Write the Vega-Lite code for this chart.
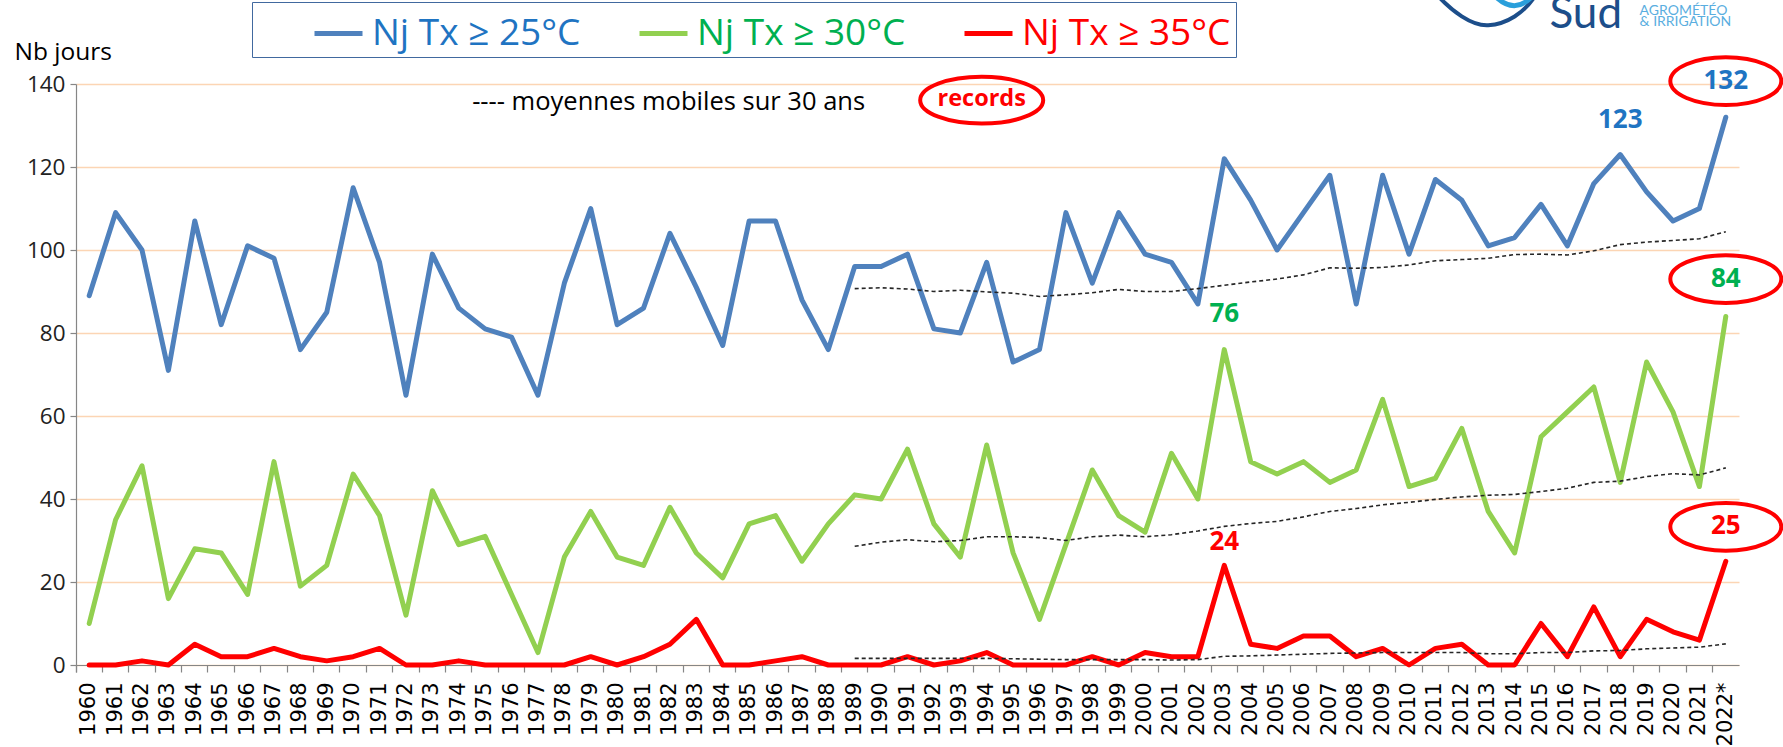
{
  "$schema": "https://vega.github.io/schema/vega-lite/v6.json",
  "width": 1663,
  "height": 581,
  "autosize": {"type": "none"},
  "padding": {"left": 76, "top": 84, "right": 44, "bottom": 82},
  "background": "#FFFFFF",
  "config": {"view": {"stroke": null}, "font": "Open Sans"},
  "datasets": {
    "obs": [
      {"year":"1960","t25":89,"t30":10,"t35":0},{"year":"1961","t25":109,"t30":35,"t35":0},{"year":"1962","t25":100,"t30":48,"t35":1},
      {"year":"1963","t25":71,"t30":16,"t35":0},{"year":"1964","t25":107,"t30":28,"t35":5},{"year":"1965","t25":82,"t30":27,"t35":2},
      {"year":"1966","t25":101,"t30":17,"t35":2},{"year":"1967","t25":98,"t30":49,"t35":4},{"year":"1968","t25":76,"t30":19,"t35":2},
      {"year":"1969","t25":85,"t30":24,"t35":1},{"year":"1970","t25":115,"t30":46,"t35":2},{"year":"1971","t25":97,"t30":36,"t35":4},
      {"year":"1972","t25":65,"t30":12,"t35":0},{"year":"1973","t25":99,"t30":42,"t35":0},{"year":"1974","t25":86,"t30":29,"t35":1},
      {"year":"1975","t25":81,"t30":31,"t35":0},{"year":"1976","t25":79,"t30":17,"t35":0},{"year":"1977","t25":65,"t30":3,"t35":0},
      {"year":"1978","t25":92,"t30":26,"t35":0},{"year":"1979","t25":110,"t30":37,"t35":2},{"year":"1980","t25":82,"t30":26,"t35":0},
      {"year":"1981","t25":86,"t30":24,"t35":2},{"year":"1982","t25":104,"t30":38,"t35":5},{"year":"1983","t25":91,"t30":27,"t35":11},
      {"year":"1984","t25":77,"t30":21,"t35":0},{"year":"1985","t25":107,"t30":34,"t35":0},{"year":"1986","t25":107,"t30":36,"t35":1},
      {"year":"1987","t25":88,"t30":25,"t35":2},{"year":"1988","t25":76,"t30":34,"t35":0},{"year":"1989","t25":96,"t30":41,"t35":0},
      {"year":"1990","t25":96,"t30":40,"t35":0},{"year":"1991","t25":99,"t30":52,"t35":2},{"year":"1992","t25":81,"t30":34,"t35":0},
      {"year":"1993","t25":80,"t30":26,"t35":1},{"year":"1994","t25":97,"t30":53,"t35":3},{"year":"1995","t25":73,"t30":27,"t35":0},
      {"year":"1996","t25":76,"t30":11,"t35":0},{"year":"1997","t25":109,"t30":29,"t35":0},{"year":"1998","t25":92,"t30":47,"t35":2},
      {"year":"1999","t25":109,"t30":36,"t35":0},{"year":"2000","t25":99,"t30":32,"t35":3},{"year":"2001","t25":97,"t30":51,"t35":2},
      {"year":"2002","t25":87,"t30":40,"t35":2},{"year":"2003","t25":122,"t30":76,"t35":24},{"year":"2004","t25":112,"t30":49,"t35":5},
      {"year":"2005","t25":100,"t30":46,"t35":4},{"year":"2006","t25":109,"t30":49,"t35":7},{"year":"2007","t25":118,"t30":44,"t35":7},
      {"year":"2008","t25":87,"t30":47,"t35":2},{"year":"2009","t25":118,"t30":64,"t35":4},{"year":"2010","t25":99,"t30":43,"t35":0},
      {"year":"2011","t25":117,"t30":45,"t35":4},{"year":"2012","t25":112,"t30":57,"t35":5},{"year":"2013","t25":101,"t30":37,"t35":0},
      {"year":"2014","t25":103,"t30":27,"t35":0},{"year":"2015","t25":111,"t30":55,"t35":10},{"year":"2016","t25":101,"t30":61,"t35":2},
      {"year":"2017","t25":116,"t30":67,"t35":14},{"year":"2018","t25":123,"t30":44,"t35":2},{"year":"2019","t25":114,"t30":73,"t35":11},
      {"year":"2020","t25":107,"t30":61,"t35":8},{"year":"2021","t25":110,"t30":43,"t35":6},{"year":"2022","t25":132,"t30":84,"t35":25}
    ],
    "mm": [
      {"year":"1989","m25":90.7,"m30":28.6,"m35":1.6},{"year":"1990","m25":90.9,"m30":29.6,"m35":1.6},{"year":"1991","m25":90.6,"m30":30.2,"m35":1.6},
      {"year":"1992","m25":90.0,"m30":29.7,"m35":1.6},{"year":"1993","m25":90.3,"m30":30.0,"m35":1.6},{"year":"1994","m25":89.9,"m30":30.9,"m35":1.6},
      {"year":"1995","m25":89.6,"m30":30.9,"m35":1.5},{"year":"1996","m25":88.8,"m30":30.7,"m35":1.4},{"year":"1997","m25":89.2,"m30":30.0,"m35":1.3},
      {"year":"1998","m25":89.7,"m30":30.9,"m35":1.3},{"year":"1999","m25":90.5,"m30":31.3,"m35":1.3},{"year":"2000","m25":90.0,"m30":30.9,"m35":1.3},
      {"year":"2001","m25":90.0,"m30":31.4,"m35":1.2},{"year":"2002","m25":90.7,"m30":32.3,"m35":1.3},{"year":"2003","m25":91.5,"m30":33.4,"m35":2.1},
      {"year":"2004","m25":92.3,"m30":34.1,"m35":2.2},{"year":"2005","m25":93.0,"m30":34.6,"m35":2.4},{"year":"2006","m25":94.0,"m30":35.7,"m35":2.6},
      {"year":"2007","m25":95.7,"m30":37.0,"m35":2.8},{"year":"2008","m25":95.6,"m30":37.7,"m35":2.9},{"year":"2009","m25":95.8,"m30":38.6,"m35":3.0},
      {"year":"2010","m25":96.4,"m30":39.2,"m35":3.0},{"year":"2011","m25":97.4,"m30":39.9,"m35":3.0},{"year":"2012","m25":97.7,"m30":40.5,"m35":3.0},
      {"year":"2013","m25":98.0,"m30":40.9,"m35":2.7},{"year":"2014","m25":98.9,"m30":41.1,"m35":2.7},{"year":"2015","m25":99.0,"m30":41.8,"m35":3.0},
      {"year":"2016","m25":98.8,"m30":42.6,"m35":3.0},{"year":"2017","m25":99.8,"m30":44.0,"m35":3.4},{"year":"2018","m25":101.3,"m30":44.3,"m35":3.5},
      {"year":"2019","m25":101.9,"m30":45.4,"m35":3.9},{"year":"2020","m25":102.3,"m30":46.1,"m35":4.1},{"year":"2021","m25":102.7,"m30":45.8,"m35":4.3},
      {"year":"2022","m25":104.4,"m30":47.5,"m35":5.1}
    ],
    "lab": [
      {"year":"2022","nb":140.8,"txt":"132","serie":"t25"},
      {"year":"2018","nb":131.4,"txt":"123","serie":"t25"},
      {"year":"2022","nb":93.0,"txt":"84","serie":"t30"},
      {"year":"2003","nb":84.6,"txt":"76","serie":"t30"},
      {"year":"2022","nb":33.4,"txt":"25","serie":"t35"},
      {"year":"2003","nb":29.6,"txt":"24","serie":"t35"}
    ],
    "rec": [
      {"year":"2022","nb":140.7},
      {"year":"2022","nb":93.0},
      {"year":"2022","nb":33.3}
    ]
  },
  "encoding": {
    "x": {
      "field": "year", "type": "ordinal", "bandPosition": 0.5,
      "scale": {"type": "band", "paddingInner": 0, "paddingOuter": 0},
      "axis": {
        "title": null, "labelAngle": -90, "labelFont": "DejaVu Sans", "labelFontSize": 21,
        "labelColor": "#000000", "labelPadding": 10, "tickSize": 7, "tickColor": "#868686",
        "domainColor": "#868686", "domainWidth": 1.2, "tickWidth": 1.2, "bandPosition": 0, "tickExtra": true,
        "labelExpr": "datum.value == '2022' ? '2022*' : datum.value",
        "grid": false, "labelOverlap": false, "labelBound": false
      }
    },
    "y": {
      "field": "nb", "type": "quantitative",
      "scale": {"domain": [0, 140], "nice": false},
      "axis": {
        "title": "Nb jours", "titleAngle": 0, "titleX": -62, "titleY": -25, "titleAlign": "left",
        "titleBaseline": "alphabetic", "titleFont": "Open Sans", "titleFontSize": 24.5,
        "titleFontWeight": "normal", "titleColor": "#000000",
        "values": [0, 20, 40, 60, 80, 100, 120, 140],
        "labelFont": "Open Sans", "labelFontSize": 22.5, "labelColor": "#222222", "labelPadding": 5,
        "tickSize": 6, "tickColor": "#868686", "tickWidth": 1.2, "domainColor": "#868686", "domainWidth": 1.2,
        "grid": true, "gridColor": "#FCD5B4", "gridWidth": 1.5
      }
    }
  },
  "resolve": {"scale": {"color": "independent"}},
  "layer": [
    {
      "data": {"name": "obs"},
      "transform": [{"fold": ["t25", "t30", "t35"], "as": ["serie", "nb"]}],
      "mark": {"type": "line", "strokeWidth": 5, "strokeJoin": "round", "strokeCap": "round"},
      "encoding": {
        "color": {
          "field": "serie", "type": "nominal",
          "scale": {"domain": ["t25", "t30", "t35"], "range": ["#4F81BD", "#92D050", "#FF0000"]},
          "legend": {
            "orient": "none", "legendX": 176, "legendY": -82, "direction": "horizontal",
            "title": " ", "titleOrient": "left", "titleFontSize": 8, "titlePadding": 55,
            "symbolType": "stroke", "symbolSize": 2304, "symbolStrokeWidth": 5,
            "labelFont": "Open Sans", "labelFontSize": 37, "labelLimit": 400, "labelOffset": 7,
            "gridAlign": "none", "columnPadding": 48, "padding": 5, "strokeColor": "#41699F", "fillColor": "#FFFFFF",
            "labelExpr": "datum.value == 't25' ? 'Nj Tx ≥ 25°C' : datum.value == 't30' ? 'Nj Tx ≥ 30°C' : 'Nj Tx ≥ 35°C'",
            "encode": {"labels": {"update": {"fill": {"signal": "datum.value == 't25' ? '#1F74C2' : datum.value == 't30' ? '#00B050' : '#FF0000'"}}}}
          }
        }
      }
    },
    {
      "data": {"name": "mm"},
      "transform": [{"fold": ["m25", "m30", "m35"], "as": ["serie", "nb"]}],
      "mark": {"type": "line", "color": "#262626", "strokeWidth": 1.6, "strokeDash": [4, 3]},
      "encoding": {
        "detail": {"field": "serie"}
      }
    },
    {
      "data": {"name": "lab"},
      "mark": {"type": "text", "font": "Open Sans", "fontSize": 26, "fontWeight": "bold", "baseline": "middle", "align": "center"},
      "encoding": {
        "text": {"field": "txt"},
        "color": {"field": "serie", "type": "nominal", "legend": null,
          "scale": {"domain": ["t25", "t30", "t35"], "range": ["#1F74C2", "#00B050", "#FF0000"]}}
      }
    },
    {
      "data": {"name": "rec"},
      "mark": {"type": "point", "shape": "M-1,0A1,0.43,0,1,1,1,0A1,0.43,0,1,1,-1,0Z", "size": 12321, "filled": false, "stroke": "#FF0000", "strokeWidth": 4, "opacity": 1}
    },
    {
      "data": {"values": [{"year": "1994", "nb": 136.1}]},
      "mark": {"type": "point", "shape": "M-1,0A1,0.38,0,1,1,1,0A1,0.38,0,1,1,-1,0Z", "size": 15129, "filled": false, "stroke": "#FF0000", "strokeWidth": 4, "opacity": 1, "xOffset": -5}
    },
    {
      "data": {"values": [{"year": "1994", "nb": 136.3, "txt": "records"}]},
      "mark": {"type": "text", "font": "Open Sans", "fontSize": 23.5, "fontWeight": "bold", "color": "#FF0000", "baseline": "middle", "align": "center", "dx": -5},
      "encoding": {"text": {"field": "txt"}}
    },
    {
      "data": {"values": [{"year": "1975", "nb": 135.7, "txt": "---- moyennes mobiles sur 30 ans"}]},
      "mark": {"type": "text", "font": "Open Sans", "fontSize": 25.5, "color": "#000000", "baseline": "middle", "align": "left", "dx": -13},
      "encoding": {"text": {"field": "txt"}}
    },
    {
      "data": {"values": [{"year": "2013", "nb": 157.3}]},
      "mark": {"type": "point", "shape": "M-0.98,-0.32C-0.72,-0.04,-0.32,0.28,0.02,0.26C0.4,0.24,0.74,0.0,0.94,-0.3", "size": 10000, "filled": false, "stroke": "#1C4E8A", "strokeWidth": 4, "opacity": 1, "xOffset": -1}
    },
    {
      "data": {"values": [{"year": "2013", "nb": 157.3}]},
      "mark": {"type": "point", "shape": "M0.16,-0.32Q0.55,0.06,0.9,-0.32", "size": 10000, "filled": false, "stroke": "#2A9FDB", "strokeWidth": 5, "opacity": 1, "xOffset": -1}
    },
    {
      "data": {"values": [{"year": "2016", "nb": 153.5, "txt": "Sud"}]},
      "mark": {"type": "text", "font": "Lato", "fontSize": 44, "color": "#1C4E8A", "baseline": "alphabetic", "align": "left", "dx": -18},
      "encoding": {"text": {"field": "txt"}}
    },
    {
      "data": {"values": [{"year": "2019", "nb": 156.6, "txt": "AGROMÉTÉO"}, {"year": "2019", "nb": 153.9, "txt": "& IRRIGATION"}]},
      "mark": {"type": "text", "font": "Lato", "fontSize": 14, "color": "#5AAEE0", "baseline": "alphabetic", "align": "left", "dx": -7},
      "encoding": {"text": {"field": "txt"}}
    }
  ]
}
